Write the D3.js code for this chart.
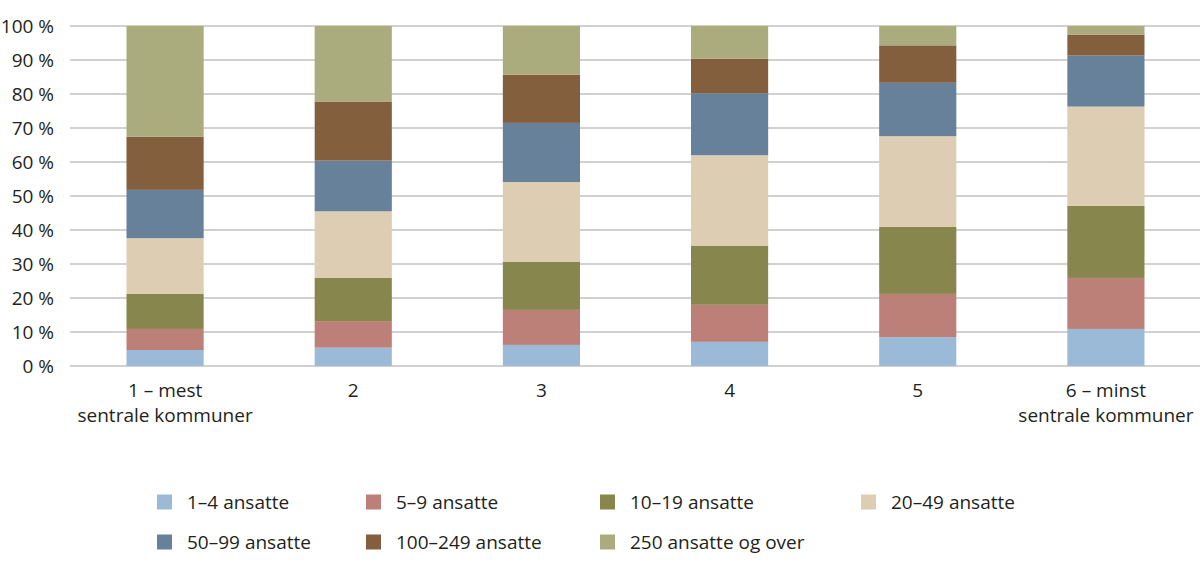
<!DOCTYPE html>
<html><head><meta charset="utf-8">
<script src="https://cdn.jsdelivr.net/npm/d3@7"></script>
<style>body{margin:0;background:#fff;} svg{display:block;}</style>
</head><body>
<svg id="chart" width="1200" height="570"></svg>
<script>
const categories = ["1 – mest|sentrale kommuner", "2", "3", "4", "5", "6 – minst|sentrale kommuner"];
const seriesNames = ["1–4 ansatte", "5–9 ansatte", "10–19 ansatte", "20–49 ansatte", "50–99 ansatte", "100–249 ansatte", "250 ansatte og over"];
const s1_4     = [4.7, 5.4, 6.2, 7.1, 8.5, 10.9];
const s5_9     = [6.2, 7.8, 10.3, 10.9, 12.7, 15.0];
const s10_19   = [10.3, 12.7, 14.2, 17.4, 19.7, 21.2];
const s20_49   = [16.4, 19.6, 23.4, 26.6, 26.7, 29.2];
const s50_99   = [14.2, 14.9, 17.4, 18.2, 15.7, 15.0];
const s100_249 = [15.6, 17.4, 14.2, 10.2, 11.0, 6.2];
const s250     = [32.6, 22.2, 14.3, 9.6, 5.7, 2.5];
const yTicks = [0, 10, 20, 30, 40, 50, 60, 70, 80, 90, 100];
const colors = ["#9bbad8", "#bd8079", "#87864c", "#dccdb3", "#68819a", "#835f3e", "#abac7e"];

(function () {
const allSeries = [s1_4, s5_9, s10_19, s20_49, s50_99, s100_249, s250];
const table = categories.map((c, i) => {
  const row = {cat: c};
  seriesNames.forEach((n, j) => row[n] = allSeries[j][i]);
  return row;
});
const stacked = d3.stack().keys(seriesNames)(table);

const svg = d3.select("#chart");
const font = "'Open Sans', sans-serif";
const fs = 19;
const mLeft = 70, mRight = 1200, mTop = 26, mBottom = 366;
const x = d3.scaleBand().domain(categories).range([mLeft + 1, mRight]).paddingInner(0.59).paddingOuter(0.295);
const y = d3.scaleLinear().domain([0, 100]).range([mBottom, mTop]);

// gridlines
svg.append("g").selectAll("line").data(yTicks).join("line")
  .attr("x1", mLeft).attr("x2", mRight)
  .attr("y1", d => y(d)).attr("y2", d => y(d))
  .attr("stroke", "#a3a3a3").attr("stroke-width", 1.2);

// y labels
const yAxis = d3.axisLeft(y).tickValues(yTicks).tickSize(0).tickPadding(0).tickFormat(d => d + " %");
const ya = svg.append("g").attr("transform", `translate(${mLeft - 16},0)`).call(yAxis);
ya.select(".domain").remove();
ya.selectAll("text").attr("font-family", font).attr("font-size", fs).attr("fill", "#231f20");

// bars
svg.append("g").selectAll("g").data(stacked).join("g")
  .attr("fill", (d, i) => colors[i])
  .selectAll("rect").data(d => d).join("rect")
  .attr("x", d => x(d.data.cat))
  .attr("width", x.bandwidth())
  .attr("y", d => y(d[1]))
  .attr("height", d => y(d[0]) - y(d[1]));

// x labels
const xa = svg.append("g").selectAll("text").data(categories).join("text")
  .attr("font-family", font).attr("font-size", fs).attr("fill", "#231f20")
  .attr("text-anchor", "middle")
  .attr("transform", d => `translate(${x(d) + x.bandwidth() / 2},0)`);
xa.each(function(d) {
  const parts = d.split("|");
  d3.select(this).selectAll("tspan").data(parts).join("tspan")
    .attr("x", 0).attr("y", (p, i) => 397 + i * 25).text(p => p);
});

// legend
const colX = [157, 366, 600, 861];
const legend = svg.append("g").selectAll("g").data(seriesNames).join("g")
  .attr("transform", (d, i) => `translate(${colX[i % 4]},${i < 4 ? 502 : 542})`);
legend.append("rect").attr("x", 0).attr("y", -7.5).attr("width", 15).attr("height", 15)
  .attr("fill", (d, i) => colors[i]);
legend.append("text").attr("x", 30).attr("y", 6.5)
  .attr("font-family", font).attr("font-size", fs).attr("fill", "#231f20").text(d => d);
})();
</script>
</body></html>
